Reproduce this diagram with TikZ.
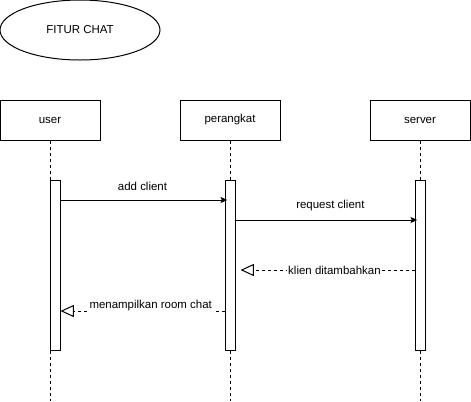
\documentclass[tikz,border=0pt]{standalone}
\usepackage{fontspec}
\setmainfont{Liberation Sans}
\usetikzlibrary{arrows.meta,shapes.geometric}

\tikzset{
    lbl/.style={font=\fontsize{8.6}{10}\selectfont},
    actor/.style={lbl, draw, line width=0.75pt, minimum width=75pt, minimum height=30pt, inner sep=0pt},
    activ/.style={draw, fill=white, line width=0.75pt, minimum width=7.5pt, minimum height=127.5pt, inner sep=0pt, anchor=north},
    lifeline/.style={line width=0.75pt, dash pattern=on 2.25pt off 2.25pt},
    msg/.style={line width=0.75pt, shorten >=-2pt, -{Stealth[length=5pt, width=4.5pt, inset=1pt]}},
    reply/.style={line width=0.75pt, dash pattern=on 2.25pt off 2.25pt, -{Triangle[open, length=10pt, width=9pt]}}
}

\begin{document}
\begin{tikzpicture}[x=0.75pt, y=-0.75pt]

    \useasboundingbox (0,0) rectangle (471,401);

    % Judul
    \node[lbl, ellipse, draw, line width=0.75pt, minimum width=120pt, minimum height=45pt] (judul) at (80,30) {FITUR CHAT};

    % Objek
    \node[actor] (user) at (50,120) {user};
    \node[actor] (perangkat) at (230,120) {perangkat};
    \node[actor] (server) at (420,120) {server};

    % Lifeline
    \foreach \obj in {user, perangkat, server} {
        \draw[lifeline] (\obj.south) -- (\obj.south |- 0,401);
    }

    % Activation
    \node[activ] (actUser) at (55,180) {};
    \node[activ] (actPer) at (230,180) {};
    \node[activ] (actServer) at (420,180) {};

    % Pesan
    \draw[msg] (actUser.east |- 0,200) -- (actPer.west |- 0,200)
        node[lbl, midway, yshift=10.5pt] {add client};
    \draw[msg] (actPer.east |- 0,220) -- (actServer.west |- 0,220)
        node[lbl, pos=0.53, yshift=11pt] {request client};

    % Balasan
    \draw[reply] (actServer.west |- 0,270) -- ([xshift=3.75pt]actPer.east |- 0,270)
        node[lbl, pos=0.46, fill=white, inner sep=1pt] {klien ditambahkan};
    \draw[reply] (actPer.west |- 0,311) -- (actUser.east |- 0,311)
        node[lbl, pos=0.45, yshift=4pt, fill=white, inner sep=1pt] {menampilkan room chat};

\end{tikzpicture}
\end{document}
